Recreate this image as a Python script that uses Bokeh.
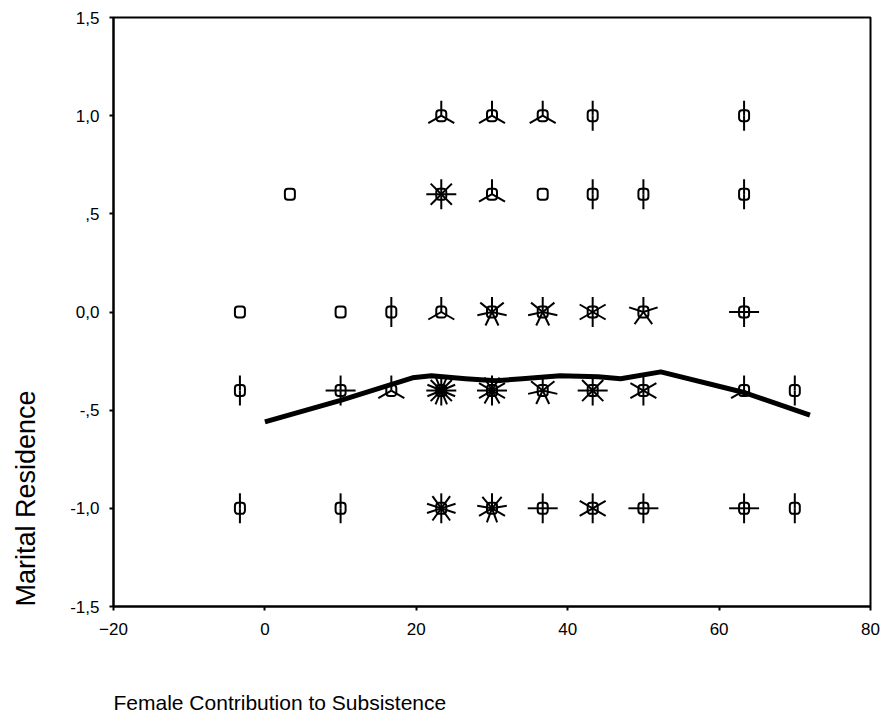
import math
from bokeh.plotting import figure
from bokeh.models import Range1d, FixedTicker, Title
from bokeh.embed import file_html
from bokeh.resources import INLINE

# Sunflower data: x position, y position, number of cases (petals)
sf_x = [23.3, 30, 36.7, 43.3, 63.3,
        3.3, 23.3, 30, 36.7, 43.3, 50, 63.3,
        -3.3, 10, 16.7, 23.3, 30, 36.7, 43.3, 50, 63.3,
        -3.3, 10, 16.7, 23.3, 30, 36.7, 43.3, 50, 63.3, 70,
        -3.3, 10, 23.3, 30, 36.7, 43.3, 50, 63.3, 70]
sf_y = [1.0, 1.0, 1.0, 1.0, 1.0,
        0.6, 0.6, 0.6, 0.6, 0.6, 0.6, 0.6,
        0.0, 0.0, 0.0, 0.0, 0.0, 0.0, 0.0, 0.0, 0.0,
        -0.4, -0.4, -0.4, -0.4, -0.4, -0.4, -0.4, -0.4, -0.4, -0.4,
        -1.0, -1.0, -1.0, -1.0, -1.0, -1.0, -1.0, -1.0, -1.0]
sf_n = [3, 3, 3, 2, 2,
        1, 8, 3, 1, 2, 2, 2,
        1, 1, 2, 3, 7, 7, 6, 5, 4,
        2, 4, 3, 16, 12, 7, 8, 6, 3, 2,
        2, 2, 10, 9, 4, 6, 4, 4, 2]

# Fit line
fit_x = [0, 10, 19.5, 22, 26.5, 30.5, 34, 39, 44, 47, 52.3, 63.3, 72]
fit_y = [-0.56, -0.45, -0.335, -0.325, -0.34, -0.35, -0.34, -0.325, -0.33, -0.34, -0.305, -0.41, -0.525]

x_ticks = [-20, 0, 20, 40, 60, 80]
y_ticks = [-1.5, -1.0, -0.5, 0.0, 0.5, 1.0, 1.5]
y_tick_labels = ["-1,5", "-1,0", "-,5", "0,0", ",5", "1,0", "1,5"]

FONT = "Liberation Sans"

p = figure(width=880, height=713, output_backend="svg", toolbar_location=None,
           x_range=Range1d(-20, 80), y_range=Range1d(-1.5, 1.5),
           min_border_left=113, min_border_right=10, min_border_top=17,
           min_border_bottom=106)
p.grid.visible = False
p.outline_line_color = "black"
p.outline_line_width = 2
p.background_fill_color = "white"
p.border_fill_color = "white"

for ax in (p.xaxis[0], p.yaxis[0]):
    ax.axis_line_width = 2
    ax.major_tick_line_width = 2
    ax.major_tick_out = 4
    ax.major_tick_in = 0
    ax.minor_tick_line_color = None
    ax.major_label_text_font = FONT
    ax.major_label_text_font_size = "17px"
    ax.major_label_text_color = "black"
    # blank spacer label so the axis titles sit at the outer edges
    ax.axis_label = "\u00a0"
    ax.axis_label_text_font_size = "1px"

p.xaxis.ticker = FixedTicker(ticks=x_ticks)
p.xaxis.major_label_standoff = 12
p.xaxis.axis_label_standoff = 47
p.yaxis.ticker = FixedTicker(ticks=y_ticks)
p.yaxis.major_label_overrides = {t: l for t, l in zip(y_ticks, y_tick_labels)}
p.yaxis.major_label_standoff = 10
p.yaxis.axis_label_standoff = 23

# petals
rx, ry, ra = [], [], []
for x, y, n in zip(sf_x, sf_y, sf_n):
    if n < 2:
        continue
    for k in range(n):
        rx.append(x)
        ry.append(y)
        ra.append(math.pi / 2 - 2 * math.pi * k / n)
p.ray(x=rx, y=ry, length=15, angle=ra, length_units="screen",
      line_color="black", line_width=2)

try:
    p.rect(x=sf_x, y=sf_y, width=10, height=11, width_units="screen",
           height_units="screen", border_radius=3, fill_color=None,
           line_color="black", line_width=2)
except Exception:
    p.scatter(x=sf_x, y=sf_y, marker="square", size=10, fill_color=None,
              line_color="black", line_width=2)

p.line(fit_x, fit_y, line_width=5, line_color="black", line_join="round")

xt = Title(text="Female Contribution to Subsistence", align="left",
           text_font=FONT, text_font_size="21px", text_font_style="normal",
           text_color="black", standoff=0)
p.add_layout(xt, "below")
yt = Title(text="Marital Residence", align="left",
           text_font=FONT, text_font_size="27px", text_font_style="normal",
           text_color="black", standoff=0)
p.add_layout(yt, "left")

open("out.html", "w").write(file_html(p, INLINE))
